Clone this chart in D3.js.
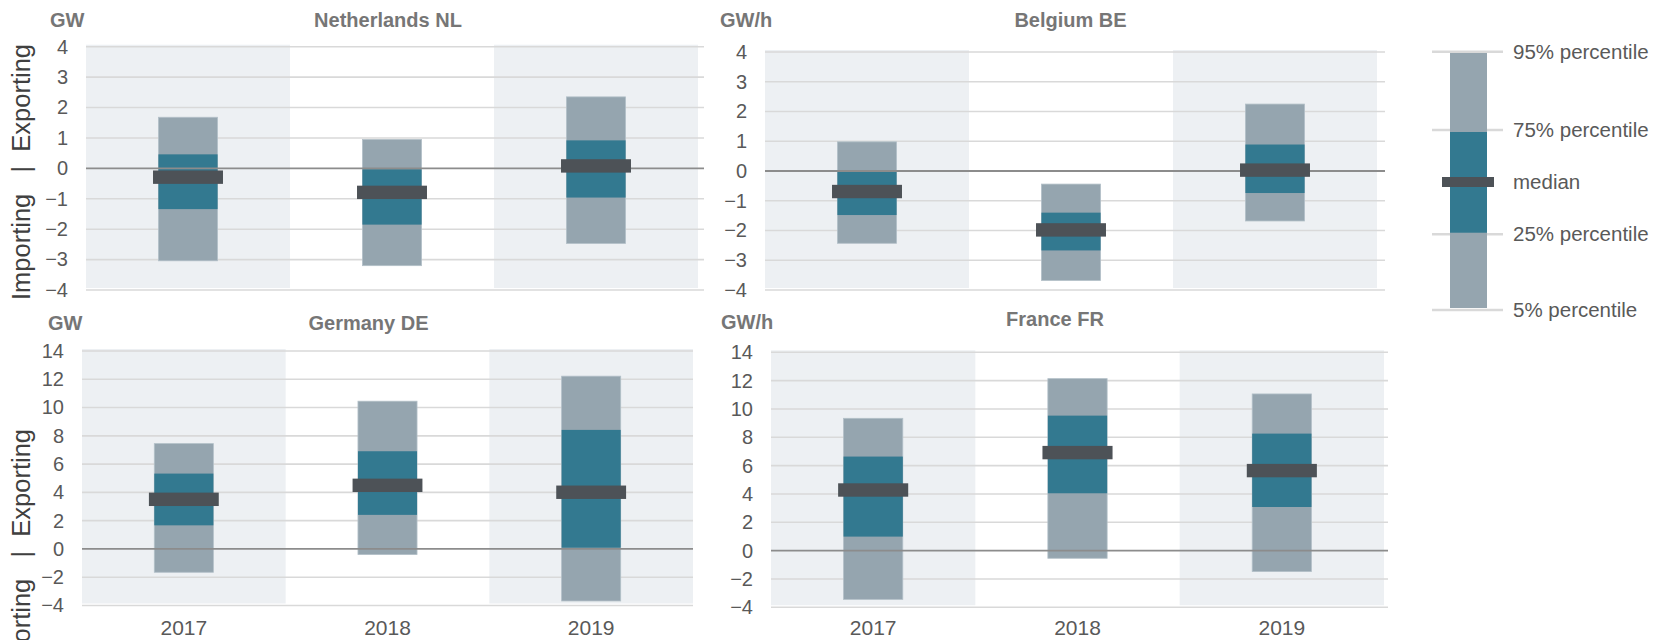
<!DOCTYPE html>
<html>
<head>
<meta charset="utf-8">
<script src="https://cdn.jsdelivr.net/npm/d3@7"></script>
<style>
  html, body { margin: 0; padding: 0; background: #fff; }
  svg { display: block; font-family: "Liberation Sans", Arial, sans-serif; }
</style>
</head>
<body>
<svg id="chart" width="1657" height="640"></svg>
<script>
// ---- data ----
const years = ['2017', '2018', '2019'];
const countries = ['Netherlands NL', 'Belgium BE', 'Germany DE', 'France FR'];
const units = ['GW', 'GW/h', 'GW', 'GW/h'];

// one row per country, one value per year
const p5     = [[-3.04, -3.20, -2.47], [-2.43, -3.68, -1.68], [-1.65, -0.40, -3.68], [-3.44, -0.54, -1.48]];
const p25    = [[-1.34, -1.85, -0.96], [-1.48, -2.67, -0.74], [ 1.67,  2.41,  0.09], [ 0.99,  4.05,  3.08]];
const median = [[-0.29, -0.79,  0.08], [-0.69, -1.98,  0.03], [ 3.51,  4.50,  4.01], [ 4.28,  6.92,  5.65]];
const p75    = [[ 0.46, -0.03,  0.92], [-0.02, -1.40,  0.89], [ 5.33,  6.91,  8.42], [ 6.64,  9.53,  8.26]];
const p95    = [[ 1.68,  0.95,  2.35], [ 0.98, -0.44,  2.25], [ 7.45, 10.45, 12.22], [ 9.34, 12.14, 11.06]];

const ticksTop = [-4, -3, -2, -1, 0, 1, 2, 3, 4];
const ticksBottom = [-4, -2, 0, 2, 4, 6, 8, 10, 12, 14];
const legendLabels = ['95% percentile', '75% percentile', 'median', '25% percentile', '5% percentile'];
const axisTitle = 'Importing   |  Exporting';

// ---- layout (pixels) ----
const yearBaseline = 635;
const panels = [
  { x0: 86,  x1: 704,  xb: 698,  yT: 46.7,  yB: 290,   ticks: ticksTop,    tx: 388,    ty: 26.7, ux: 50,  uy: 26.7, axisY: 172, showYears: false },
  { x0: 765, x1: 1385, xb: 1377, yT: 52,    yB: 290,   ticks: ticksTop,    tx: 1070.5, ty: 26.7, ux: 720, uy: 26.7, axisY: null, showYears: false },
  { x0: 82,  x1: 693,  xb: 693,  yT: 351,   yB: 605.5, ticks: ticksBottom, tx: 368.5,  ty: 330,  ux: 48,  uy: 330,  axisY: 557, showYears: true },
  { x0: 771, x1: 1388, xb: 1384, yT: 352.3, yB: 607.3, ticks: ticksBottom, tx: 1055,   ty: 326,  ux: 721, uy: 329,  axisY: null, showYears: true }
];

const C = {
  band: '#edf0f3',
  grid: '#d9d9d9',
  zero: '#8c8c8c',
  outer: '#95a5af',
  inner: '#337990',
  med: '#4d5257',
  tick: '#595959',
  title: '#767676',
  axis: '#404040'
};

const svg = d3.select('#chart');

panels.forEach((p, i) => {
  const ticks = p.ticks;
  const y = d3.scaleLinear()
    .domain([d3.min(ticks), d3.max(ticks)])
    .range([p.yB, p.yT]);
  const x = d3.scaleBand()
    .domain(years)
    .range([p.x0, p.xb])
    .padding(0);

  const g = svg.append('g');

  // alternating background bands (1st and 3rd category)
  g.selectAll('rect.band')
    .data(years.filter((d, j) => j % 2 === 0))
    .join('rect')
    .attr('class', 'band')
    .attr('x', d => x(d))
    .attr('width', x.bandwidth())
    .attr('y', y(d3.max(ticks)) - 2)
    .attr('height', y(d3.min(ticks)) - y(d3.max(ticks)))
    .attr('fill', C.band);

  // gridlines
  g.selectAll('line.grid')
    .data(ticks.filter(t => t !== 0))
    .join('line')
    .attr('class', 'grid')
    .attr('x1', p.x0).attr('x2', p.x1)
    .attr('y1', d => y(d)).attr('y2', d => y(d))
    .attr('stroke', C.grid)
    .attr('stroke-width', 1.6);

  // y tick labels
  const yAxis = g.append('g')
    .attr('transform', `translate(${p.x0},0)`)
    .call(d3.axisLeft(y).tickValues(ticks).tickSize(0).tickPadding(18).tickFormat(d3.format('d')));
  yAxis.select('.domain').remove();
  yAxis.selectAll('text')
    .attr('fill', C.tick)
    .style('font-size', '20px')
    .style('font-family', '"Liberation Sans", Arial, sans-serif');

  const rows = years.map((yr, j) => ({
    yr, lo: p5[i][j], q1: p25[i][j], med: median[i][j], q3: p75[i][j], hi: p95[i][j]
  }));

  const boxW = x.bandwidth() * 0.29;
  const medW = x.bandwidth() * 0.343;
  const cx = d => x(d.yr) + x.bandwidth() / 2;

  // 5-95 range
  g.selectAll('rect.outer')
    .data(rows)
    .join('rect')
    .attr('class', 'outer')
    .attr('x', d => cx(d) - boxW / 2)
    .attr('width', boxW)
    .attr('y', d => y(d.hi))
    .attr('height', d => y(d.lo) - y(d.hi))
    .attr('fill', C.outer)
    .attr('stroke', '#b3c0c8')
    .attr('stroke-width', 0.8);

  // 25-75 range
  g.selectAll('rect.inner')
    .data(rows)
    .join('rect')
    .attr('class', 'inner')
    .attr('x', d => cx(d) - boxW / 2)
    .attr('width', boxW)
    .attr('y', d => y(d.q3))
    .attr('height', d => y(d.q1) - y(d.q3))
    .attr('fill', C.inner);

  // zero line
  g.append('line')
    .attr('x1', p.x0).attr('x2', p.x1)
    .attr('y1', y(0)).attr('y2', y(0))
    .attr('stroke', C.zero)
    .attr('stroke-width', 1.8);

  // median bars
  g.selectAll('rect.med')
    .data(rows)
    .join('rect')
    .attr('class', 'med')
    .attr('x', d => cx(d) - medW / 2)
    .attr('width', medW)
    .attr('y', d => y(d.med) - 6.7)
    .attr('height', 13.4)
    .attr('fill', C.med);

  // year labels
  if (p.showYears) {
    const xAxis = g.append('g')
      .attr('transform', `translate(0,${p.yB})`)
      .call(d3.axisBottom(x).tickSize(0).tickPadding(yearBaseline - p.yB - 0.71 * 21));
    xAxis.select('.domain').remove();
    xAxis.selectAll('text')
      .attr('fill', C.tick)
      .style('font-size', '21px')
      .style('font-family', '"Liberation Sans", Arial, sans-serif');
  }

  // titles
  g.append('text')
    .attr('x', p.tx).attr('y', p.ty)
    .attr('text-anchor', 'middle')
    .attr('fill', C.title)
    .style('font-size', '20px')
    .style('font-weight', 'bold')
    .text(countries[i]);

  g.append('text')
    .attr('x', p.ux).attr('y', p.uy)
    .attr('fill', C.title)
    .style('font-size', '20px')
    .style('font-weight', 'bold')
    .text(units[i]);

  if (p.axisY !== null) {
    g.append('text')
      .attr('transform', `translate(30,${p.axisY}) rotate(-90)`)
      .attr('text-anchor', 'middle')
      .attr('fill', C.axis)
      .style('font-size', '25.5px')
      .style('white-space', 'pre')
      .text(axisTitle);
  }
});

// ---- legend ----
const lg = svg.append('g');
const legY = [51.7, 130, 182, 234.3, 310];   // 95, 75, median, 25, 5

lg.selectAll('line')
  .data([0, 1, 3, 4])
  .join('line')
  .attr('x1', 1432).attr('x2', 1503)
  .attr('y1', k => legY[k]).attr('y2', k => legY[k])
  .attr('stroke', C.grid)
  .attr('stroke-width', 2.6);

lg.append('rect')
  .attr('x', 1450).attr('width', 37)
  .attr('y', 53).attr('height', 255)
  .attr('fill', C.outer);
lg.append('rect')
  .attr('x', 1450).attr('width', 37)
  .attr('y', 132).attr('height', 100.7)
  .attr('fill', C.inner);
lg.append('rect')
  .attr('x', 1442).attr('width', 52)
  .attr('y', 177).attr('height', 10)
  .attr('fill', C.med);

lg.selectAll('text')
  .data(legendLabels)
  .join('text')
  .attr('x', 1513)
  .attr('y', (d, k) => legY[k])
  .attr('dy', '0.35em')
  .attr('fill', C.tick)
  .style('font-size', '20.5px')
  .text(d => d);
</script>
</body>
</html>
